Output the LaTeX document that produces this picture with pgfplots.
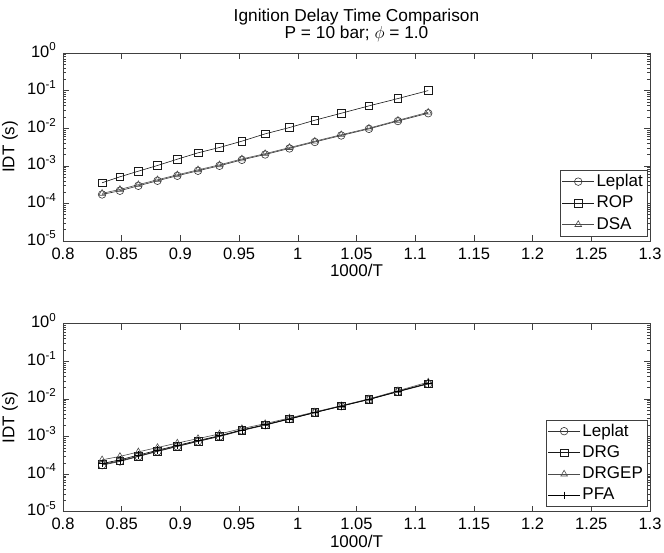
\documentclass[border=0pt]{standalone}
\usepackage{pgfplots}
\pgfplotsset{compat=1.18}
\usepackage{fontspec}
\setmainfont{Liberation Sans}
\begin{document}
\fontsize{16.5}{19}\selectfont
\begin{tikzpicture}
\useasboundingbox (-63pt,-312pt) rectangle (601pt,241pt);
\pgfplotsset{
  every axis/.append style={
    scale only axis, width=587pt, height=188pt,
    ymode=log, xmin=0.8, xmax=1.3, ymin=1e-5, ymax=1,
    xtick={0.8,0.85,0.9,0.95,1,1.05,1.1,1.15,1.2,1.25,1.3},
    xticklabels={0.8,0.85,0.9,0.95,1,1.05,1.1,1.15,1.2,1.25,1.3},
    ytick={1e-5,1e-4,1e-3,1e-2,1e-1,1},
    yticklabels={10\textsuperscript{-5},10\textsuperscript{-4},10\textsuperscript{-3},10\textsuperscript{-2},10\textsuperscript{-1},10\textsuperscript{0}},
    tick align=inside, major tick length=6pt, minor tick length=3pt,
    axis line style={black!75, line width=0.6pt},
    every tick/.style={black!75, line width=0.5pt},
    tick label style={font=\fontsize{16.5}{19}\selectfont},
    xticklabel style={yshift=-1pt},
    yticklabel style={xshift=-1pt, yshift=3pt},
    label style={font=\fontsize{17}{20}\selectfont},
    xlabel={1000/T}, ylabel={IDT (s)},
    xlabel style={yshift=6pt},
    ylabel style={yshift=-2pt},
    legend cell align=left,
    legend style={at={(0.995,0.027)}, anchor=south east, draw=black!75,
      font=\fontsize{17}{20}\selectfont, row sep=3pt, inner sep=2pt},
    legend image code/.code={\draw[mark repeat=2,mark phase=2] plot coordinates {(0pt,0pt)(16pt,0pt)(32pt,0pt)};},
    every axis plot/.append style={line width=0.6pt, mark size=3.8pt, mark options={solid, fill=none}},
  }
}
\begin{axis}[at={(0pt,0pt)}, anchor=south west,
  title={Ignition Delay Time Comparison\\P = 10 bar; $\phi$ = 1.0},
  title style={align=center, font=\fontsize{17.3}{17}\selectfont, yshift=-1pt}]
\addplot[black!80, mark=o] coordinates {
(0.8333,1.73e-4)(0.8485,2.17e-4)(0.8642,2.94e-4)(0.8805,4.0e-4)(0.8974,5.43e-4)(0.9150,7.37e-4)(0.9333,1.0e-3)(0.9524,1.44e-3)(0.9722,2.0e-3)(0.9929,2.9e-3)(1.0145,4.3e-3)(1.0370,6.4e-3)(1.0606,9.6e-3)(1.0853,1.55e-2)(1.1111,2.5e-2)};
\addlegendentry{Leplat}
\addplot[black!90, mark=square] coordinates {
(0.8333,3.54e-4)(0.8485,5.1e-4)(0.8642,7.2e-4)(0.8805,1.02e-3)(0.8974,1.50e-3)(0.9150,2.21e-3)(0.9333,3.07e-3)(0.9524,4.52e-3)(0.9722,7.08e-3)(0.9929,1.04e-2)(1.0145,1.63e-2)(1.0370,2.50e-2)(1.0606,3.92e-2)(1.0853,6.14e-2)(1.1111,0.100)};
\addlegendentry{ROP}
\addplot[black!70, mark=triangle] coordinates {
(0.8333,1.85e-4)(0.8485,2.35e-4)(0.8642,3.15e-4)(0.8805,4.25e-4)(0.8974,5.75e-4)(0.9150,7.8e-4)(0.9333,1.06e-3)(0.9524,1.52e-3)(0.9722,2.1e-3)(0.9929,3.05e-3)(1.0145,4.5e-3)(1.0370,6.7e-3)(1.0606,1.0e-2)(1.0853,1.62e-2)(1.1111,2.65e-2)};
\addlegendentry{DSA}
\end{axis}
\begin{axis}[at={(0pt,-270.7pt)}, anchor=south west]
\addplot[black!80, mark=o] coordinates {
(0.8333,1.73e-4)(0.8485,2.17e-4)(0.8642,2.94e-4)(0.8805,4.0e-4)(0.8974,5.43e-4)(0.9150,7.37e-4)(0.9333,1.0e-3)(0.9524,1.44e-3)(0.9722,2.0e-3)(0.9929,2.9e-3)(1.0145,4.3e-3)(1.0370,6.4e-3)(1.0606,9.6e-3)(1.0853,1.55e-2)(1.1111,2.5e-2)};
\addlegendentry{Leplat}
\addplot[black!90, mark=square] coordinates {
(0.8333,1.8e-4)(0.8485,2.25e-4)(0.8642,3.0e-4)(0.8805,4.1e-4)(0.8974,5.55e-4)(0.9150,7.5e-4)(0.9333,1.02e-3)(0.9524,1.47e-3)(0.9722,2.05e-3)(0.9929,2.95e-3)(1.0145,4.4e-3)(1.0370,6.5e-3)(1.0606,9.8e-3)(1.0853,1.58e-2)(1.1111,2.55e-2)};
\addlegendentry{DRG}
\addplot[black!70, mark=triangle] coordinates {
(0.8333,2.4e-4)(0.8485,2.95e-4)(0.8642,3.9e-4)(0.8805,5.1e-4)(0.8974,6.7e-4)(0.9150,8.8e-4)(0.9333,1.17e-3)(0.9524,1.62e-3)(0.9722,2.2e-3)(0.9929,3.1e-3)(1.0145,4.5e-3)(1.0370,6.6e-3)(1.0606,1.0e-2)(1.0853,1.65e-2)(1.1111,2.8e-2)};
\addlegendentry{DRGEP}
\addplot[black, mark=+] coordinates {
(0.8333,1.9e-4)(0.8485,2.4e-4)(0.8642,3.2e-4)(0.8805,4.3e-4)(0.8974,5.8e-4)(0.9150,7.8e-4)(0.9333,1.05e-3)(0.9524,1.5e-3)(0.9722,2.05e-3)(0.9929,2.95e-3)(1.0145,4.35e-3)(1.0370,6.45e-3)(1.0606,9.7e-3)(1.0853,1.58e-2)(1.1111,2.6e-2)};
\addlegendentry{PFA}
\end{axis}
\end{tikzpicture}
\end{document}
